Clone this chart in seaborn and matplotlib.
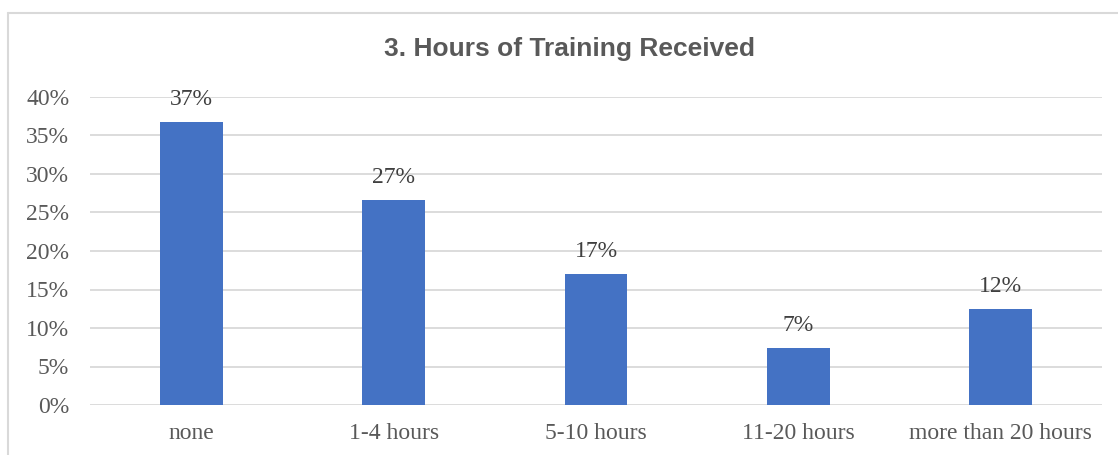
import matplotlib
matplotlib.use("Agg")
import matplotlib.pyplot as plt
import pandas as pd
import seaborn as sns
from matplotlib.lines import Line2D
from matplotlib.ticker import PercentFormatter

categories = ["none", "1-4 hours", "5-10 hours", "11-20 hours", "more than 20 hours"]
shares = [0.3675, 0.2660, 0.1700, 0.0740, 0.1245]
labels = ["37%", "27%", "17%", "7%", "12%"]
title = "3. Hours of Training Received"

BAR_COLOR = "#4472C4"
TEXT_COLOR = "#595959"
LABEL_COLOR = "#404040"
GRID_COLOR = "#D9D9D9"

W, H = 1118, 455

sns.set_theme(style="white")
plt.rcParams["font.family"] = ["Liberation Serif", "DejaVu Serif"]

df = pd.DataFrame({"category": categories, "share": shares})

fig = plt.figure(figsize=(W / 100, H / 100), dpi=100)
ax = fig.add_axes([90 / W, 1 - 405 / H, (1102 - 90) / W, (405 - 97) / H])

sns.barplot(data=df, x="category", y="share", color=BAR_COLOR, width=0.31,
            saturation=1, linewidth=0, ax=ax, zorder=3)

ax.set_ylim(0, 0.4)
ax.set_xlim(-0.5, len(categories) - 0.5)
ax.set_yticks([i * 0.05 for i in range(9)])
ax.yaxis.set_major_formatter(PercentFormatter(1.0, decimals=0))
ax.grid(axis="y", color=GRID_COLOR, linewidth=1.3, zorder=0)
ax.set_axisbelow(True)
for side in ["top", "right", "left", "bottom"]:
    ax.spines[side].set_visible(False)
ax.set_xlabel("")
ax.set_ylabel("")
ax.tick_params(axis="x", length=0, pad=13, labelsize=17, labelcolor=TEXT_COLOR)
ax.tick_params(axis="y", length=0, pad=15, labelsize=17, labelcolor=TEXT_COLOR)

for i, (v, lab) in enumerate(zip(shares, labels)):
    ax.annotate(lab, (i, v), xytext=(0, 9), textcoords="offset points",
                ha="center", va="bottom", fontsize=17, color=LABEL_COLOR)

fig.text(570 / W, 1 - 49 / H, title, ha="center", va="center",
         fontsize=19, fontweight="bold", color=TEXT_COLOR,
         family=["Liberation Sans", "DejaVu Sans"])

# chart frame (only left and top edges fall inside the crop)
y_top = 1 - 12.7 / H
x_left = 7.5 / W
fig.add_artist(Line2D([x_left, x_left], [0, y_top], color=GRID_COLOR, linewidth=1.5))
fig.add_artist(Line2D([x_left, 1], [y_top, y_top], color=GRID_COLOR, linewidth=1.5))

fig.savefig("out.png", dpi=100, facecolor="white")
